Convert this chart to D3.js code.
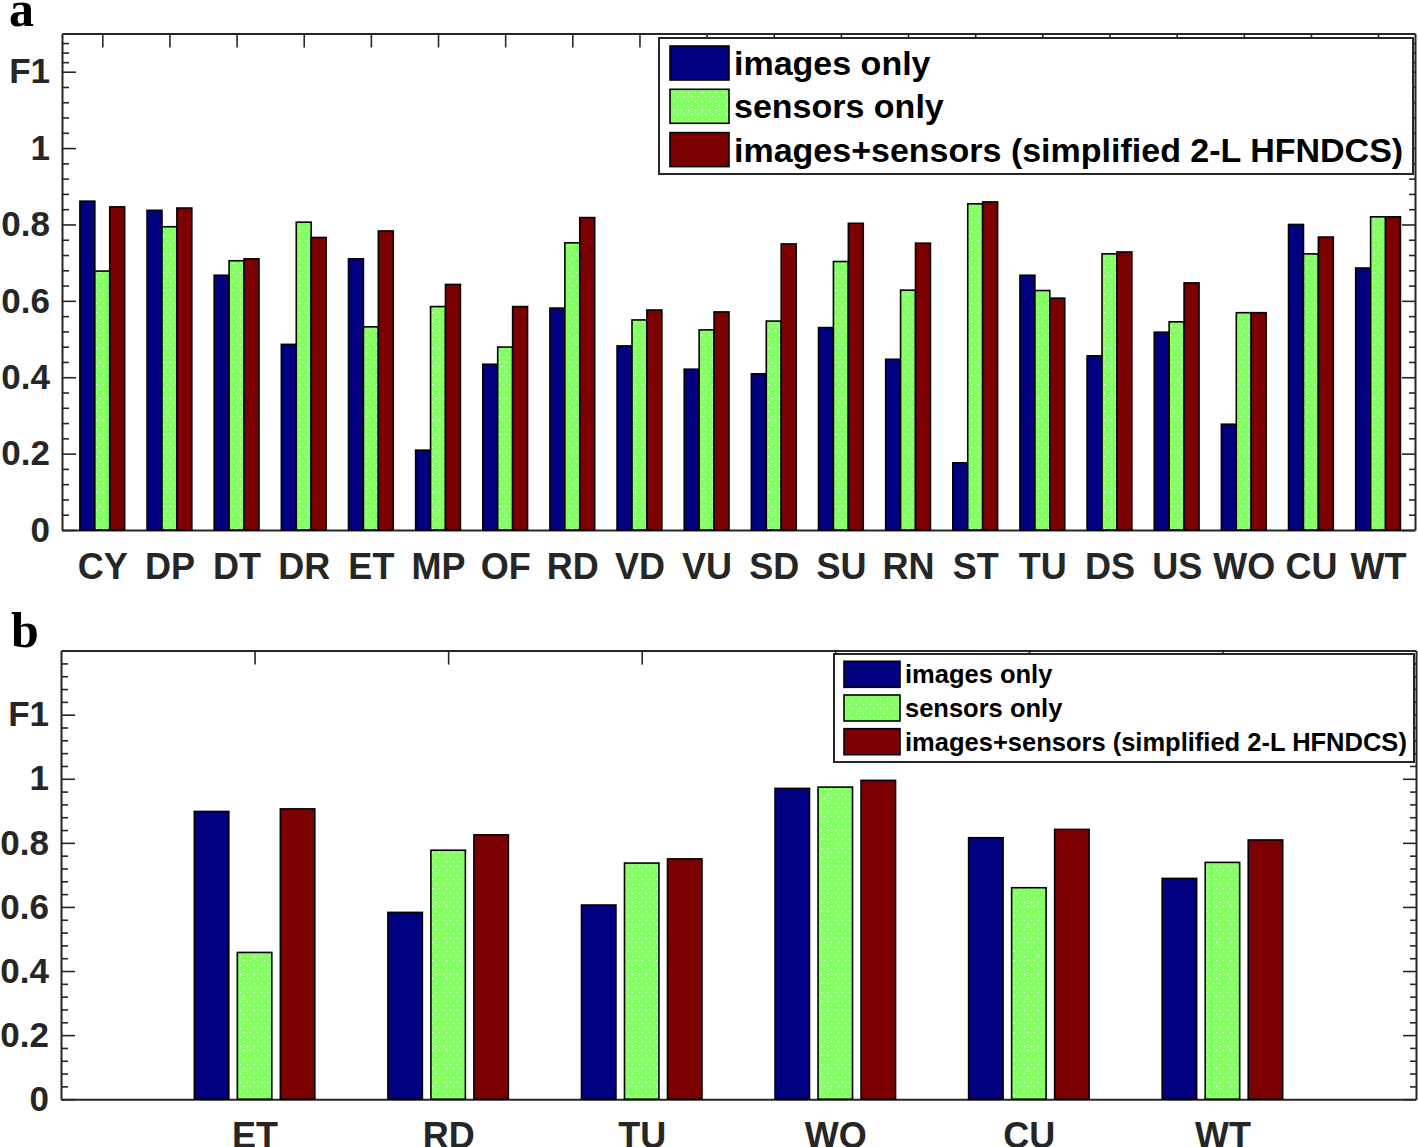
<!DOCTYPE html>
<html>
<head>
<meta charset="utf-8">
<script src="https://cdn.jsdelivr.net/npm/d3@7"></script>
<style>
  html, body { margin: 0; padding: 0; background: #fff; }
  svg { display: block; }
</style>
</head>
<body>
<svg id="chart" width="1418" height="1147"></svg>
<script>
// ---------------- DATA ----------------
const seriesNames = ["images only", "sensors only", "images+sensors (simplified 2-L HFNDCS)"];

const categoriesA = ["CY","DP","DT","DR","ET","MP","OF","RD","VD","VU","SD","SU","RN","ST","TU","DS","US","WO","CU","WT"];
const imagesOnlyA  = [0.861,0.837,0.667,0.486,0.710,0.209,0.434,0.581,0.482,0.421,0.409,0.530,0.447,0.176,0.667,0.456,0.518,0.277,0.800,0.686];
const sensorsOnlyA = [0.678,0.794,0.705,0.806,0.532,0.585,0.479,0.752,0.550,0.524,0.547,0.703,0.628,0.854,0.627,0.723,0.545,0.569,0.723,0.820];
const combinedA    = [0.846,0.843,0.710,0.766,0.783,0.643,0.585,0.818,0.576,0.571,0.749,0.803,0.751,0.859,0.607,0.728,0.647,0.569,0.767,0.820];

const categoriesB = ["ET","RD","TU","WO","CU","WT"];
const imagesOnlyB  = [0.898,0.583,0.606,0.970,0.816,0.689];
const sensorsOnlyB = [0.458,0.777,0.737,0.974,0.660,0.739];
const combinedB    = [0.906,0.825,0.750,0.995,0.842,0.809];

const yMajorTicks  = [0, 0.2, 0.4, 0.6, 0.8, 1, 1.2];
const yMajorLabels = ["0", "0.2", "0.4", "0.6", "0.8", "1", "F1"];
const yMinorExtraA = [1.225, 1.25, 1.275];

// ---------------- STYLE ----------------
const colors = ["#000080", "#86ff66", "#7d0000"];
const axisColor = "#262626";
const fontFam = "'Liberation Sans', Arial, Helvetica, sans-serif";

const svg = d3.select("#chart");
const defs = svg.append("defs");
const pat = defs.append("pattern").attr("id", "dots")
  .attr("patternUnits", "userSpaceOnUse").attr("width", 7).attr("height", 9);
pat.append("rect").attr("width", 7).attr("height", 9).attr("fill", colors[1]);
pat.append("rect").attr("x", 2).attr("y", 2).attr("width", 1).attr("height", 1).attr("fill", "#fff");
pat.append("rect").attr("x", 5).attr("y", 6).attr("width", 1).attr("height", 1).attr("fill", "#fff");
const fills = [colors[0], "url(#dots)", colors[2]];

function panel(cfg) {
  const { cats, series, left, right, top, bottom, xDomain, yMax, minorTicks,
          barOffset, barWidth, xFont, legend, letter } = cfg;
  const g = svg.append("g");
  const x = d3.scaleLinear().domain(xDomain).range([left, right]);
  const y = d3.scaleLinear().domain([0, yMax]).range([bottom, top]);
  const catIdx = cats.map((c, i) => i + 1);

  const styleAxis = (sel) => {
    sel.selectAll("path.domain").attr("stroke", axisColor).attr("stroke-width", 2);
    sel.selectAll(".tick line").attr("stroke", axisColor).attr("stroke-width", 1.6);
    sel.selectAll("text").attr("fill", axisColor).attr("font-family", fontFam)
      .attr("font-weight", "bold");
  };
  g.append("g").attr("transform", `translate(${left},0)`)
    .call(d3.axisLeft(y).tickValues(yMajorTicks).tickSize(-14).tickSizeOuter(0)
      .tickPadding(12).tickFormat((d, i) => yMajorLabels[i]))
    .call(styleAxis)
    .call(s => s.selectAll("text").attr("font-size", 35));
  g.append("g").attr("transform", `translate(${left},0)`)
    .call(d3.axisLeft(y).tickValues(minorTicks).tickSize(-7).tickSizeOuter(0).tickFormat(""))
    .call(styleAxis).call(s => s.select("path.domain").remove());
  g.append("g").attr("transform", `translate(${right},0)`)
    .call(d3.axisRight(y).tickValues(yMajorTicks).tickSize(-13).tickSizeOuter(0).tickFormat(""))
    .call(styleAxis);
  g.append("g").attr("transform", `translate(${right},0)`)
    .call(d3.axisRight(y).tickValues(minorTicks).tickSize(-6).tickSizeOuter(0).tickFormat(""))
    .call(styleAxis).call(s => s.select("path.domain").remove());
  g.append("g").attr("transform", `translate(0,${top})`)
    .call(d3.axisTop(x).tickValues(catIdx).tickSize(-14).tickSizeOuter(0).tickFormat(""))
    .call(styleAxis);
  g.append("g").attr("transform", `translate(0,${bottom})`)
    .call(d3.axisBottom(x).tickValues(catIdx).tickSize(-14).tickSizeOuter(0)
      .tickPadding(49).tickFormat((d, i) => cats[i]))
    .call(styleAxis)
    .call(s => s.selectAll("text").attr("font-size", xFont).attr("dy", 0));

  const bw = x(barWidth) - x(0);
  series.forEach((vals, j) => {
    g.append("g").selectAll("rect").data(vals).join("rect")
      .attr("x", (d, i) => x(i + 1 + (j - 1) * barOffset) - bw / 2)
      .attr("y", d => y(d))
      .attr("width", bw)
      .attr("height", d => y(0) - y(d))
      .attr("fill", fills[j])
      .attr("stroke", "#000").attr("stroke-width", 1.6);
  });

  const L = legend;
  const lg = g.append("g");
  lg.append("rect").attr("x", L.x0).attr("y", L.y0).attr("width", L.x1 - L.x0)
    .attr("height", L.y1 - L.y0).attr("fill", "#fff")
    .attr("stroke", axisColor).attr("stroke-width", 2);
  seriesNames.forEach((name, j) => {
    const cy = L.firstRow + j * L.pitch;
    lg.append("rect").attr("x", L.sx).attr("y", cy - L.sh / 2)
      .attr("width", L.sw).attr("height", L.sh).attr("fill", fills[j])
      .attr("stroke", "#000").attr("stroke-width", 1.6);
    lg.append("text").attr("x", L.tx).attr("y", cy + L.base)
      .attr("font-family", fontFam).attr("font-weight", "bold")
      .attr("font-size", L.font).attr("fill", "#000").text(name);
  });

  svg.append("text").attr("x", letter.x).attr("y", letter.y)
    .attr("font-family", "'Liberation Serif', 'Times New Roman', serif")
    .attr("font-weight", "bold").attr("font-size", 50).attr("fill", "#000")
    .text(letter.t);
}

const minorA = d3.range(1, 30).map(k => +(k * 0.04).toFixed(2))
  .filter(v => v < 1.19 && Math.abs(v * 5 - Math.round(v * 5)) > 1e-6).concat(yMinorExtraA);
const minorB = d3.range(1, 35).map(k => +(k * 0.04).toFixed(2))
  .filter(v => v < 1.39 && Math.abs(v * 5 - Math.round(v * 5)) > 1e-6);

panel({
  cats: categoriesA, series: [imagesOnlyA, sensorsOnlyA, combinedA],
  left: 62, right: 1415, top: 33.5, bottom: 530, xDomain: [0.4, 20.55], yMax: 1.3,
  minorTicks: minorA, barOffset: 0.2222, barWidth: 0.2222, xFont: 36,
  legend: { x0: 659, x1: 1413, y0: 38, y1: 174, sx: 670, sw: 59, sh: 34,
            firstRow: 63, pitch: 43.3, tx: 734, base: 12, font: 34 },
  letter: { x: 9, y: 26, t: "a" }
});

panel({
  cats: categoriesB, series: [imagesOnlyB, sensorsOnlyB, combinedB],
  left: 61, right: 1416, top: 650.6, bottom: 1099.2, xDomain: [0, 7], yMax: 1.4,
  minorTicks: minorB, barOffset: 0.2222, barWidth: 0.178, xFont: 36,
  legend: { x0: 834, x1: 1414, y0: 654, y1: 762, sx: 844, sw: 56, sh: 26,
            firstRow: 674.3, pitch: 33.7, tx: 905, base: 9, font: 25.5 },
  letter: { x: 11, y: 647, t: "b" }
});
</script>
</body>
</html>
